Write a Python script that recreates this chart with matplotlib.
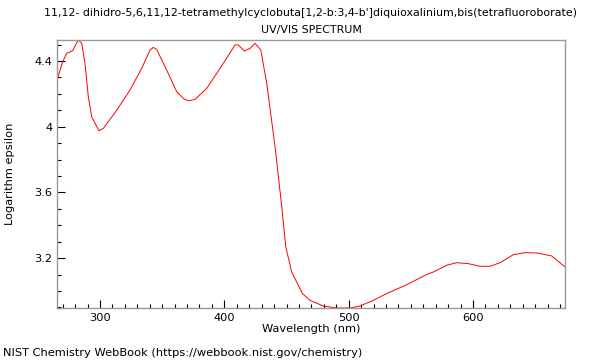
import matplotlib
matplotlib.use("Agg")
import matplotlib.pyplot as plt
from matplotlib.ticker import MultipleLocator, FormatStrFormatter

# spectrum
wavelength = [265.4, 270.0, 273.2, 278.0, 282.5, 285.3, 287.9, 290.6, 293.3, 299.2,
              302.7, 313.4, 324.1, 333.5, 340.2, 342.9, 345.6, 353.6, 361.7, 367.0,
              371.0, 376.4, 385.8, 399.2, 408.6, 411.3, 416.1, 420.7, 424.7, 429.3,
              434.1, 440.8, 446.2, 449.4, 454.2, 462.8, 468.9, 479.6, 490.4, 501.1,
              509.2, 519.9, 530.6, 546.7, 562.8, 568.1, 578.8, 586.9, 596.3, 605.7,
              613.8, 621.8, 632.5, 641.9, 651.3, 663.3, 674.0]
log_eps = [4.284, 4.396, 4.447, 4.463, 4.528, 4.508, 4.386, 4.182, 4.060, 3.975,
           3.990, 4.100, 4.223, 4.355, 4.467, 4.483, 4.470, 4.345, 4.213, 4.172,
           4.158, 4.166, 4.233, 4.386, 4.498, 4.498, 4.461, 4.477, 4.508, 4.467,
           4.264, 3.877, 3.512, 3.268, 3.115, 2.984, 2.943, 2.908, 2.896, 2.896,
           2.908, 2.943, 2.984, 3.038, 3.100, 3.115, 3.156, 3.172, 3.166, 3.150,
           3.150, 3.172, 3.221, 3.233, 3.231, 3.213, 3.146]

compound = "11,12- dihidro-5,6,11,12-tetramethylcyclobuta[1,2-b:3,4-b']diquioxalinium,bis(tetrafluoroborate)"
subtitle = "UV/VIS SPECTRUM"

plt.rcParams['font.family'] = ['DejaVu Sans']
fig = plt.figure(figsize=(6, 3.6), dpi=100)
ax = fig.add_axes([57 / 600, 1 - 308 / 360, 508 / 600, 268 / 360])

ax.plot(wavelength, log_eps, color="red", linewidth=0.7)
ax.set_xlim(min(wavelength), max(wavelength))
ax.set_ylim(min(log_eps), max(log_eps))

ax.xaxis.set_major_locator(MultipleLocator(100))
ax.xaxis.set_minor_locator(MultipleLocator(10))
ax.yaxis.set_major_locator(MultipleLocator(0.4))
ax.yaxis.set_minor_locator(MultipleLocator(0.1))
ax.yaxis.set_major_formatter(FormatStrFormatter('%g'))
ax.tick_params(which="both", direction="in", top=False, right=False,
               labelsize=8.2, color="black", width=0.8)
ax.tick_params(which="major", length=6)
ax.tick_params(which="minor", length=3)
for s in ax.spines.values():
    s.set_color("#999999")
    s.set_linewidth(1)

ax.set_xlabel("Wavelength (nm)", fontsize=8.2, labelpad=1)
ax.set_ylabel("Logarithm epsilon", fontsize=8.2, va="center")
ax.yaxis.set_label_coords(-(57 - 10) / 508, 0.5)

# two title lines, placed separately to match the spacing
cx = 311 / 600
fig.text(cx, 1 - 13 / 360, compound, fontsize=7.9, ha="center", va="center")
fig.text(cx, 1 - 30 / 360, subtitle, fontsize=7.9, ha="center", va="center")
fig.text(3 / 600, 1 - 353 / 360, "NIST Chemistry WebBook (https://webbook.nist.gov/chemistry)",
         fontsize=8.2, va="center", ha="left")

fig.savefig("out.png", dpi=100)
